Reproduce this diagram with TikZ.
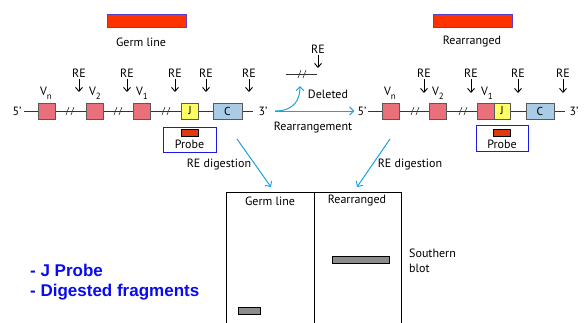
\documentclass[tikz,border=0pt]{standalone}
\usepackage{fontspec}
\setmainfont{PT Sans}
\newfontfamily\arialb{Liberation Sans}
\usetikzlibrary{arrows.meta}
\definecolor{vpink}{HTML}{E9707A}
\definecolor{jyellow}{HTML}{FFFF66}
\definecolor{cblue}{HTML}{A9CBE3}
\definecolor{probered}{HTML}{DD3A10}
\definecolor{probeblue}{HTML}{1A1AE6}
\definecolor{barred}{HTML}{FF3300}
\definecolor{barborder}{HTML}{5B3FD0}
\definecolor{arrowblue}{HTML}{1BA1E2}
\definecolor{bandgray}{HTML}{8C8C8C}
\definecolor{textblue}{HTML}{0A0AF0}
\newcommand\vsub[1]{V\raisebox{-0.3em}{\fontsize{9}{10}\selectfont #1}}
\tikzset{
  gene/.style={draw=gray!70!black, line width=0.6pt, minimum width=17pt, minimum height=16pt, inner sep=0pt, font=\fontsize{11.5}{12}\selectfont},
  vseg/.style={gene, fill=vpink},
  jseg/.style={gene, fill=jyellow},
  cseg/.style={gene, fill=cblue, minimum width=29pt},
  lbl/.style={inner sep=0pt, font=\fontsize{12}{14}\selectfont},
  rearrow/.style={-{Straight Barb[length=4pt,width=7pt]}, line width=0.9pt},
  dna/.style={line width=0.9pt, draw=black!80},
  brkline/.style={line width=0.6pt, draw=black!80},
  bluearrow/.style={draw=arrowblue, line width=1pt, -{Straight Barb[length=4pt,width=8pt]}},
  topbar/.style={draw=barborder, fill=barred, line width=0.8pt},
  probebox/.style={draw=probeblue, line width=1pt},
  probebar/.style={fill=probered},
  band/.style={fill=bandgray},
}
\newcommand\brk[2]{\draw[brkline] (#1-4,#2+4) -- (#1-1,#2-4); \draw[brkline] (#1+1,#2+4) -- (#1+4,#2-4);}
\begin{document}
\begin{tikzpicture}[x=1pt,y=-1pt]
\useasboundingbox (0,0) rectangle (584,322);
% top bars
\draw[topbar] (107,14) rectangle (186,27);
\node[lbl] (tgl) at (141,42) {Germ line};
\draw[topbar] (433,14) rectangle (512,27);
\node[lbl] (tra) at (472,42) {Rearranged};

% ---------- left gene ----------
\coordinate (ls) at (24,111);
\coordinate (le) at (253,111);
\draw[dna] (ls) -- (le);
\node[lbl] (l5) at (17,111) {5’};
\node[lbl] (l3) at (263,111) {3’};
\node[vseg] (lvn) at (46.5,111) {};
\node[vseg] (lv2) at (94.5,111) {};
\node[vseg] (lv1) at (142,111) {};
\node[jseg] (lj) at (190,111) {J};
\node[cseg] (lc) at (227.5,111) {C};
\brk{70}{111}\brk{118}{111}\brk{166}{111}
\node[lbl] at (46,93) {\vsub{n}};
\node[lbl] at (95,93) {\vsub{2}};
\node[lbl] at (142,93) {\vsub{1}};
\foreach \x/\n in {79/a,127/b,175/c,206/d,249/e}{
  \node[lbl] (lre\n) at (\x,73) {RE};
  \coordinate (lreb\n) at (\x,92);
  \draw[rearrow] (lre\n.south) ++(0,2) -- (lreb\n);
}
\draw[probebox] (163,127) rectangle (216,152);
\draw[probebar] (181,129) rectangle (198,136);
\node[lbl] (lprobe) at (189.5,144) {Probe};
\node[lbl] (ldig) at (219,165) {RE digestion};

% ---------- middle ----------
\node[lbl] (mre) at (318,49) {RE};
\coordinate (mreb) at (318,68);
\draw[rearrow] (mre.south) ++(0,2) -- (mreb);
\coordinate (ds) at (286,74);
\coordinate (de) at (317,74);
\draw[dna] (ds) -- (de);
\brk{302}{74}
\node[lbl] (del) at (328,94) {Deleted};
\coordinate (rs) at (275,111);
\coordinate (dtip) at (300,86);
\draw[bluearrow] (rs) .. controls (294,111) and (300,100) .. (dtip);
\node[lbl] (rearr) at (313,128) {Rearrangement};

% ---------- right gene ----------
\coordinate (rls) at (368,111);
\coordinate (rle) at (565,111);
\draw[dna] (rls) -- (rle);
\node[lbl] (r5) at (362,111) {5’};
\node[lbl] (r3) at (574,111) {3’};
\draw[bluearrow] (rs) -- ([xshift=-3pt]r5.west);
\node[vseg] (rvn) at (390.5,111) {};
\node[vseg] (rv2) at (438,111) {};
\node[vseg] (rv1) at (486,111) {};
\node[jseg, minimum width=16pt] (rj) at (502,111) {J};
\node[cseg, minimum width=28pt] (rc) at (540,111) {C};
\brk{415}{111}\brk{463}{111}
\node[lbl] at (390,93) {\vsub{n}};
\node[lbl] at (438,93) {\vsub{2}};
\node[lbl] at (487,93) {\vsub{1}};
\foreach \x/\n in {424/a,471/b,518/c,563/d}{
  \node[lbl] (rre\n) at (\x,73) {RE};
  \coordinate (rreb\n) at (\x,93);
  \draw[rearrow] (rre\n.south) ++(0,2) -- (rreb\n);
}
\draw[probebox] (476,125) rectangle (528,151);
\draw[probebar] (493,129) rectangle (510,136);
\node[lbl] (rprobe) at (502,144) {Probe};
\node[lbl] (rdig) at (410,165) {RE digestion};

% ---------- blot ----------
\coordinate (bl) at (226,192);
\coordinate (bm) at (314,192);
\coordinate (br) at (401,192);
\draw[line width=1pt] (226,330) -- (bl) -- (br) -- (401,330);
\draw[line width=1pt] (bm) -- (314,330);
\node[lbl] (hgl) at (270,201) {Germ line};
\node[lbl] (hra) at (357,201) {Rearranged};
\draw[band] (332,256) rectangle (389,263);
\draw[band] (238,307) rectangle (260,314);
\coordinate (ta) at (271,187);
\coordinate (tb) at (357,187);
\coordinate (sa) at (237,139);
\coordinate (sb) at (390,139);
\draw[bluearrow] (sa) -- (ta);
\draw[bluearrow] (sb) -- (tb);
\node[lbl, anchor=west, align=left, font=\fontsize{12}{15}\selectfont] (sb1) at (409,261) {Southern\\blot};

% ---------- bottom-left ----------
\node[anchor=west, align=left, inner sep=0pt, text=textblue, font=\arialb\bfseries\fontsize{17}{20}\selectfont] (notes) at (30,282) {- J Probe\\- Digested fragments};
\end{tikzpicture}
\end{document}
